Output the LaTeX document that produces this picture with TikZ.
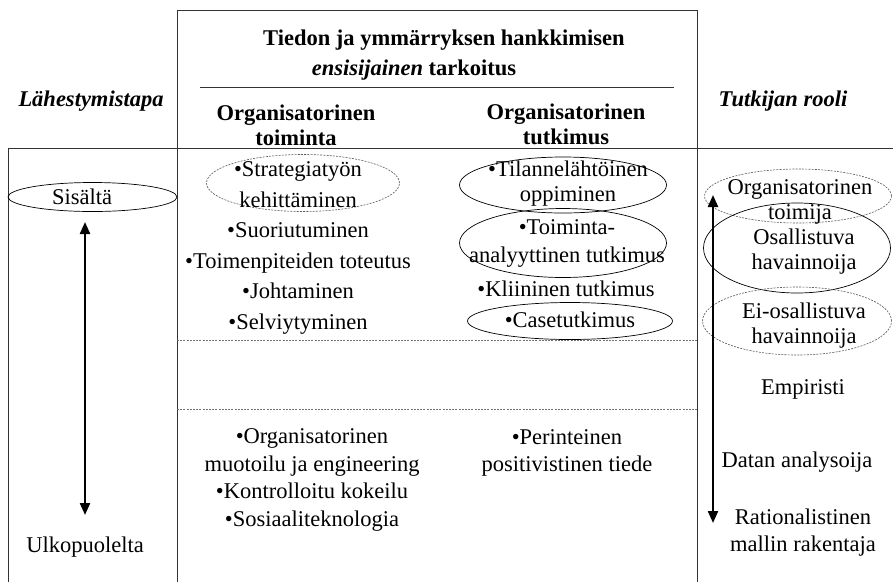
\documentclass[tikz,border=0pt]{standalone}
\usepackage{fontspec}
\setmainfont{Liberation Serif}
\usetikzlibrary{arrows.meta,shapes.geometric}
\begin{document}
\begin{tikzpicture}[x=1pt,y=-1pt,
  every node/.style={inner sep=0pt, outer sep=0pt},
  body/.style={font=\fontsize{22.5}{28}\selectfont, align=center},
  head/.style={font=\fontsize{22.5}{25}\selectfont\bfseries, align=center},
  axislabel/.style={font=\fontsize{22.5}{25}\selectfont\bfseries\itshape},
  frame/.style={draw=black!80, line width=0.9pt},
  sep/.style={draw=black!55, line width=0.6pt, dash pattern=on 2pt off 1.2pt},
  solidoval/.style={ellipse, draw=black, line width=0.7pt},
  dashoval/.style={ellipse, draw=black!65, line width=0.6pt, dash pattern=on 2pt off 1.2pt},
  scalearrow/.style={line width=2.2pt,
    {Triangle[width=10pt,length=12pt]}-{Triangle[width=10pt,length=12pt]}}
]
\useasboundingbox (0,0) rectangle (893,582);

% table frame
\draw[frame] (177,582) -- (177,10) -- (697,10) -- (697,582);
\draw[frame] (8,582) -- (8,148) -- (893,148);
\draw[frame] (200,87) -- (674,87);
\draw[sep] (177,340) -- (697,340);
\draw[sep] (177,409) -- (697,409);

% headings
\node[head] (t1) at (444,40) {Tiedon ja ymmärryksen hankkimisen};
\node[head] (t2) at (414,70) {\textit{ensisijainen} tarkoitus};
\node[head] (c1) at (296,125) {Organisatorinen\\toiminta};
\node[head] (c2) at (566,124) {Organisatorinen\\tutkimus};
\node[axislabel] (lah) at (91,101) {Lähestymistapa};
\node[axislabel] (rooli) at (783,101) {Tutkijan rooli};

% approach column
\node[solidoval, minimum width=169, minimum height=29] (sisE) at (92.5,197) {};
\node[body] (sis) at (82,197) {Sisältä};
\node[body] (ulko) at (85,547) {Ulkopuolelta};
\coordinate (appTop) at (85,222);
\coordinate (appBot) at (85,515);
\draw[scalearrow] (appTop) -- (appBot);

% organisational activity column
\node[dashoval, minimum width=193, minimum height=57] (strE) at (303,183) {};
\node[body, font=\fontsize{22.5}{30.6}\selectfont] (act) at (298,248)
  {•Strategiatyön\\kehittäminen\\•Suoriutuminen\\•Toimenpiteiden toteutus\\•Johtaminen\\•Selviytyminen};
\node[body, font=\fontsize{22.5}{27.8}\selectfont] (actLow) at (312,480)
  {•Organisatorinen\\muotoilu ja engineering\\•Kontrolloitu kokeilu\\•Sosiaaliteknologia};

% organisational research column
\node[solidoval, minimum width=207, minimum height=56] (tilE) at (563,185) {};
\node[solidoval, minimum width=207, minimum height=69] (toiE) at (563,243) {};
\node[solidoval, minimum width=205, minimum height=37] (casE) at (570,321) {};
\node[body, font=\fontsize{22.5}{25}\selectfont] (res1) at (568,184) {•Tilannelähtöinen\\oppiminen};
\node[body, font=\fontsize{22.5}{28}\selectfont] (res2) at (567,243) {•Toiminta-\\analyyttinen tutkimus};
\node[body] (res3) at (566,289) {•Kliininen tutkimus};
\node[body] (res4) at (570,320) {•Casetutkimus};
\node[body, font=\fontsize{22.5}{27}\selectfont] (resLow) at (567,453)
  {•Perinteinen\\positivistinen tiede};

% researcher role column
\node[dashoval, minimum width=187, minimum height=54] (orgE) at (798,196) {};
\node[solidoval, minimum width=187, minimum height=90] (osaE) at (797,248) {};
\node[dashoval, minimum width=189, minimum height=68] (eiE) at (797,321) {};
\node[body, font=\fontsize{22.5}{25}\selectfont] (r1) at (800,202) {Organisatorinen\\toimija};
\node[body, font=\fontsize{22.5}{25}\selectfont] (r2) at (804,252) {Osallistuva\\havainnoija};
\node[body, font=\fontsize{22.5}{25}\selectfont] (r3) at (804,326) {Ei-osallistuva\\havainnoija};
\node[body] (r4) at (803,389) {Empiristi};
\node[body] (r5) at (797,462) {Datan analysoija};
\node[body, font=\fontsize{22.5}{27}\selectfont] (r6) at (803,533) {Rationalistinen\\mallin rakentaja};
\coordinate (roleTop) at (713,195);
\coordinate (roleBot) at (713,523);
\draw[scalearrow] (roleTop) -- (roleBot);
\end{tikzpicture}
\end{document}
